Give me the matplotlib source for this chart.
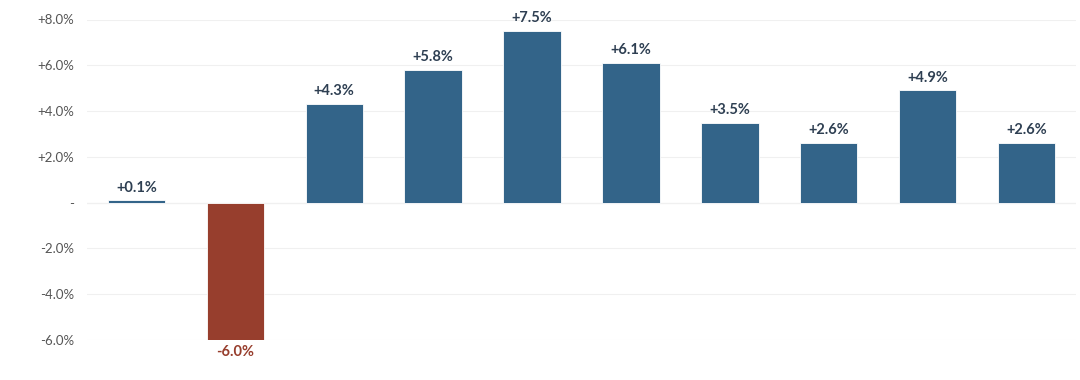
import matplotlib
matplotlib.use('Agg')
import matplotlib.pyplot as plt
import numpy as np

# values in percent, one bar per period
values = [0.1, -6.0, 4.3, 5.8, 7.5, 6.1, 3.5, 2.6, 4.9, 2.6]
yticks = [-6, -4, -2, 0, 2, 4, 6, 8]

pos_color = '#336489'
neg_color = '#973E2D'
pos_text = '#2E3F52'

plt.rcParams['font.family'] = ['Lato', 'DejaVu Sans']

fig = plt.figure(figsize=(10.8, 3.8), dpi=100)
ax = fig.add_axes([87 / 1080, 40 / 380, 989 / 1080, 320.5 / 380])

x = np.arange(len(values))
colors = [pos_color if v >= 0 else neg_color for v in values]
ax.bar(x, values, width=0.58, color=colors, edgecolor='#ffffff', linewidth=0.6, zorder=3)

for xi, v in zip(x, values):
    if v >= 0:
        ax.text(xi, v + 0.25, f'+{v:.1f}%', ha='center', va='bottom',
                fontsize=10.5, fontweight='bold', color=pos_text)
    else:
        ax.text(xi, v - 0.2, f'{v:.1f}%', ha='center', va='top',
                fontsize=10.5, fontweight='bold', color=neg_color, clip_on=False)

def fmt(t):
    if t == 0:
        return '-'
    return f'+{t:.1f}%' if t > 0 else f'{t:.1f}%'

ax.set_xlim(-0.5, 9.5)
ax.set_ylim(-6, 8)
ax.set_yticks(yticks)
ax.set_yticklabels([fmt(t) for t in yticks], fontsize=9.5, color='#555555')
ax.set_xticks([])
ax.tick_params(axis='y', length=0, pad=9)
for s in ax.spines.values():
    s.set_visible(False)
ax.grid(axis='y', color='#f0f0f0', linewidth=0.8, zorder=0)
ax.axhline(0, color='#dddddd', linewidth=0.8, zorder=1)

plt.savefig('out.png', dpi=100)
plt.close()
